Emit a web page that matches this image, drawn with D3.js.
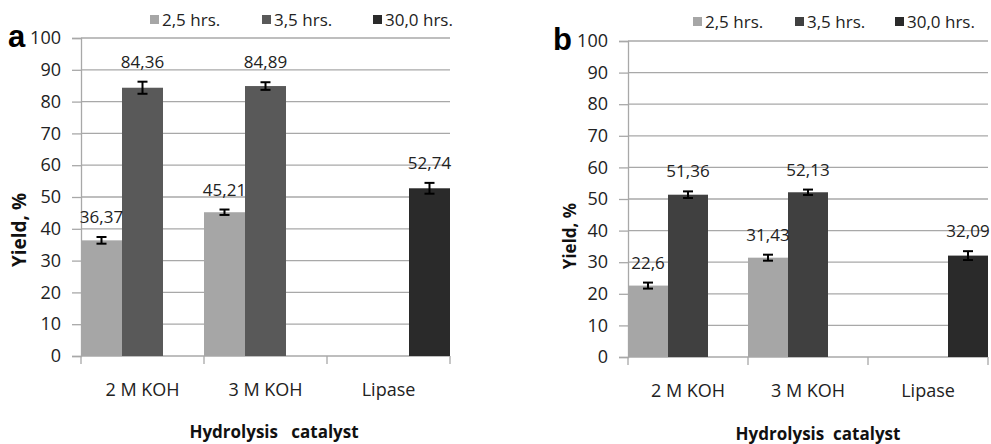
<!DOCTYPE html>
<html>
<head>
<meta charset="utf-8">
<script src="https://cdn.jsdelivr.net/npm/d3@7"></script>
<style>
  body { margin: 0; background: #fff; }
  svg { display: block; font-family: "Open Sans", sans-serif; }
  svg text { font-family: "Open Sans", sans-serif; }
  .y-axis .tick text { font-size: 18px; fill: #222; }
  .x-axis .tick text { font-size: 18px; fill: #222; }
  .val { font-size: 17px; fill: #222; text-anchor: middle; }
  .legend text { font-size: 17px; fill: #222; }
  .axis-title { font-size: 17px; font-weight: bold; fill: #111; white-space: pre; }
  svg text.panel-tag { font-family: "Liberation Sans", Arial, sans-serif; font-size: 31px; font-weight: bold; fill: #000; }
</style>
</head>
<body>
<svg id="chart" width="991" height="444"></svg>
<script>
// shared categories / series
const categories = ["2 M KOH", "3 M KOH", "Lipase"]
const seriesNames = ["2,5 hrs.", "3,5 hrs.", "30,0 hrs."]
const yTicks = [0, 10, 20, 30, 40, 50, 60, 70, 80, 90, 100]

// panel a
const aShort = [36.37, 45.21, null]
const aMid = [84.36, 84.89, null]
const aLong = [null, null, 52.74]
const aShortErr = [1.05, 0.85, null]
const aMidErr = [1.9, 1.2, null]
const aLongErr = [null, null, 1.7]

// panel b
const bShort = [22.6, 31.43, null]
const bMid = [51.36, 52.13, null]
const bLong = [null, null, 32.09]
const bShortErr = [0.95, 0.95, null]
const bMidErr = [1.05, 0.85, null]
const bLongErr = [null, null, 1.4]

const svg = d3.select("#chart")

function toRows(series, errs) {
    let rows = []
    series.forEach((vals, si) => {
        vals.forEach((v, ci) => {
            if (v != null) rows.push({cat: categories[ci], ser: seriesNames[si], v: v, e: errs[si][ci]})
        })
    })
    return rows
}

function drawPanel(opt) {
    const rows = toRows(opt.series, opt.errs)

    const x = d3.scaleBand()
        .domain(categories)
        .range([opt.left, opt.right])
        .padding(0)

    const xInner = d3.scaleBand()
        .domain(seriesNames)
        .range([0, x.bandwidth()])
        .padding(0)

    const y = d3.scaleLinear()
        .domain([0, 100])
        .range([opt.bottom, opt.top])

    const color = d3.scaleOrdinal()
        .domain(seriesNames)
        .range(opt.colors)

    const g = svg.append("g")

    // gridlines + y axis
    const yAxis = g.append("g")
        .attr("class", "y-axis")
        .attr("transform", `translate(${opt.left},0)`)
        .call(d3.axisLeft(y).tickValues(yTicks).tickSize(9).tickPadding(11))
    yAxis.attr("font-family", null).attr("font-size", null)
    yAxis.select(".domain").attr("stroke", "#a8a8a8").attr("stroke-width", 1.3)
    yAxis.selectAll(".tick line").attr("stroke", "#a8a8a8").attr("stroke-width", 1.3)

    g.append("g")
        .selectAll("line")
        .data(yTicks)
        .enter().append("line")
        .attr("x1", opt.left)
        .attr("x2", opt.right)
        .attr("y1", d => y(d))
        .attr("y2", d => y(d))
        .attr("stroke", "#a8a8a8")
        .attr("stroke-width", 1.3)

    // bars
    g.append("g")
        .selectAll("rect")
        .data(rows)
        .enter().append("rect")
        .attr("x", d => x(d.cat) + xInner(d.ser))
        .attr("width", xInner.bandwidth())
        .attr("y", d => y(d.v))
        .attr("height", d => y(0) - y(d.v))
        .attr("fill", d => color(d.ser))

    // error bars
    const eb = g.append("g")
        .attr("stroke", "#000")
        .attr("stroke-width", 2)
        .selectAll("g")
        .data(rows)
        .enter().append("g")
        .attr("transform", d => `translate(${x(d.cat) + xInner(d.ser) + xInner.bandwidth() / 2},0)`)
    eb.append("line").attr("y1", d => y(d.v - d.e)).attr("y2", d => y(d.v + d.e))
    eb.append("line").attr("x1", -5).attr("x2", 5).attr("y1", d => y(d.v - d.e)).attr("y2", d => y(d.v - d.e))
    eb.append("line").attr("x1", -5).attr("x2", 5).attr("y1", d => y(d.v + d.e)).attr("y2", d => y(d.v + d.e))

    // value labels
    g.append("g")
        .selectAll("text")
        .data(rows)
        .enter().append("text")
        .attr("class", "val")
        .attr("x", d => x(d.cat) + xInner(d.ser) + xInner.bandwidth() / 2)
        .attr("y", d => y(d.v + d.e) - 14)
        .text(d => String(d.v).replace(".", ","))

    // x axis
    const xAxis = g.append("g")
        .attr("class", "x-axis")
        .attr("transform", `translate(0,${opt.bottom})`)
        .call(d3.axisBottom(x).tickSize(0).tickPadding(27))
    xAxis.attr("font-family", null).attr("font-size", null)
    xAxis.select(".domain").remove()
    g.append("g")
        .selectAll("line")
        .data(categories.concat([null]))
        .enter().append("line")
        .attr("x1", (d, i) => opt.left + i * x.bandwidth())
        .attr("x2", (d, i) => opt.left + i * x.bandwidth())
        .attr("y1", opt.bottom)
        .attr("y2", opt.bottom + 8)
        .attr("stroke", "#a8a8a8")
        .attr("stroke-width", 1.3)

    // axis titles
    g.append("text")
        .attr("class", "axis-title")
        .attr("x", opt.xTitleX)
        .attr("y", opt.xTitleY)
        .attr("text-anchor", "middle")
        .text(opt.xTitle)

    g.append("text")
        .attr("class", "axis-title")
        .style("font-size", opt.yTitleSize + "px")
        .attr("transform", `translate(${opt.yTitleX},${opt.yTitleY}) rotate(-90)`)
        .attr("text-anchor", "middle")
        .text("Yield, %")

    // panel tag
    g.append("text")
        .attr("class", "panel-tag")
        .attr("x", opt.tagX)
        .attr("y", opt.top + 9)
        .text(opt.tag)

    // legend
    const lg = g.append("g")
        .attr("class", "legend")
        .selectAll("g")
        .data(seriesNames)
        .enter().append("g")
        .attr("transform", (d, i) => `translate(${opt.legendX[i]},${opt.legendY})`)
    lg.append("rect")
        .attr("x", 0).attr("y", -5)
        .attr("width", 9).attr("height", 9)
        .attr("fill", d => color(d))
    lg.append("text")
        .attr("x", 12).attr("y", 6)
        .text(d => d)
}

drawPanel({
    tag: "a", tagX: 8,
    left: 81, right: 450, top: 38, bottom: 356,
    series: [aShort, aMid, aLong],
    errs: [aShortErr, aMidErr, aLongErr],
    colors: ["#a6a6a6", "#595959", "#2a2a2a"],
    legendX: [150, 262, 373], legendY: 20,
    xTitle: "Hydrolysis   catalyst", xTitleX: 274, xTitleY: 438,
    yTitleX: 26, yTitleY: 230, yTitleSize: 19
})

drawPanel({
    tag: "b", tagX: 553,
    left: 628, right: 988, top: 41, bottom: 357,
    series: [bShort, bMid, bLong],
    errs: [bShortErr, bMidErr, bLongErr],
    colors: ["#a6a6a6", "#404040", "#2a2a2a"],
    legendX: [693, 795, 895], legendY: 22,
    xTitle: "Hydrolysis  catalyst", xTitleX: 818, xTitleY: 440,
    yTitleX: 576, yTitleY: 236, yTitleSize: 17
})
</script>
</body>
</html>
